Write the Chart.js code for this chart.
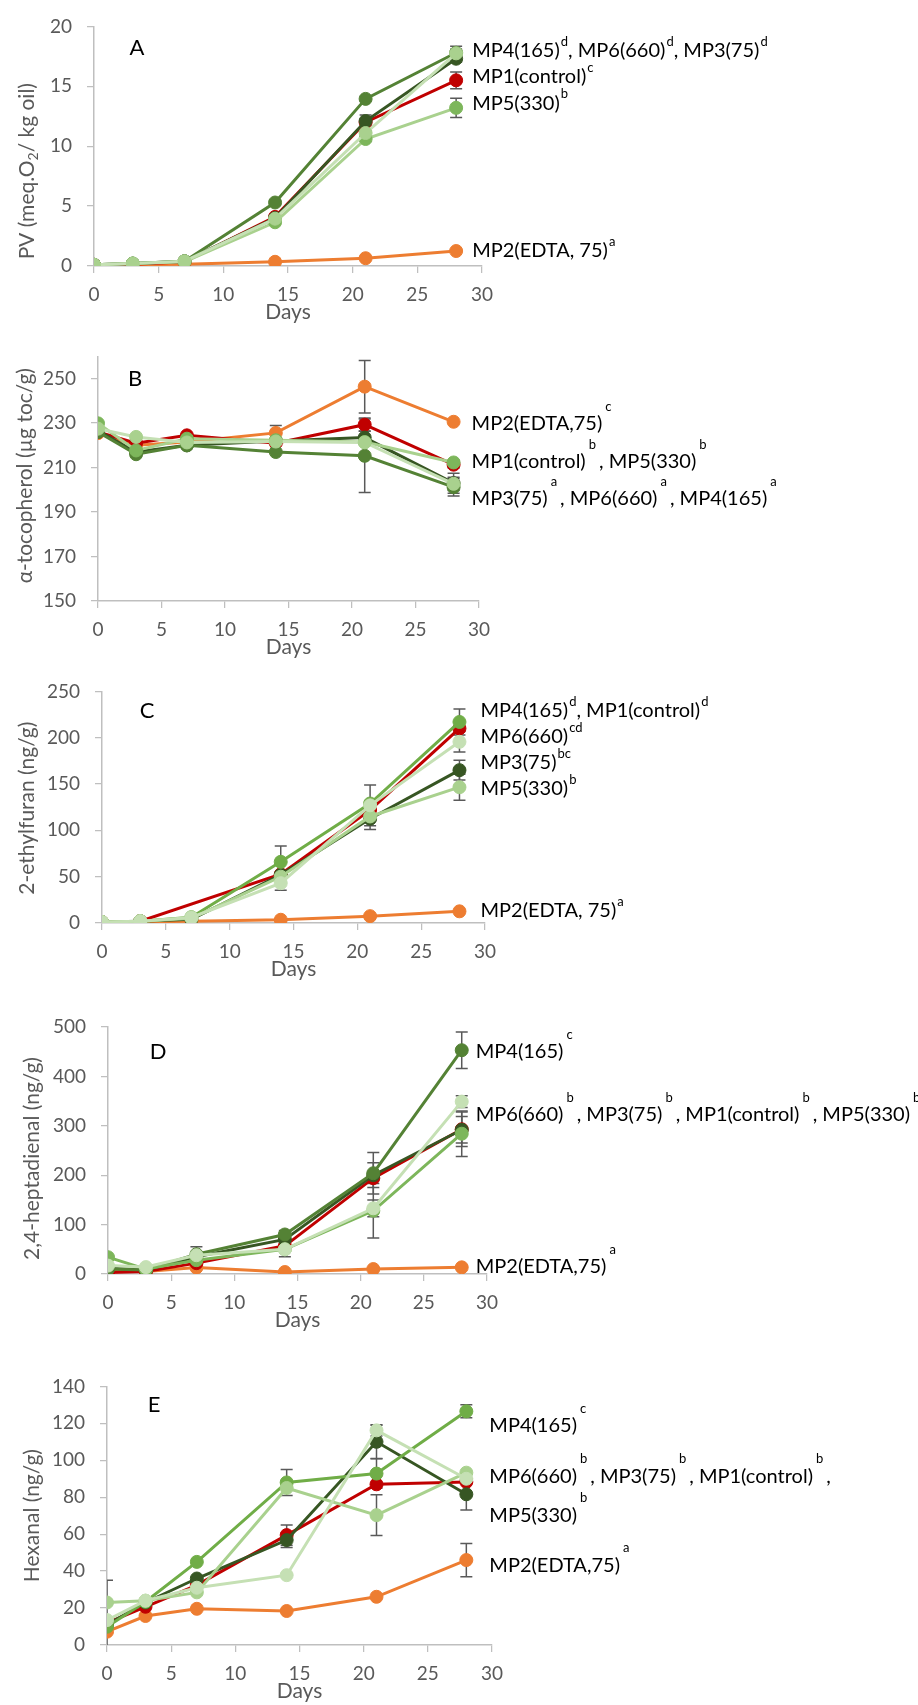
<!DOCTYPE html>
<html>
<head>
<meta charset="utf-8">
<title>Oxidation markers during storage</title>
<script src="https://cdn.jsdelivr.net/npm/chart.js@4.4.1/dist/chart.umd.min.js"></script>
<style>
  body { margin: 0; background: #fff; }
  #page { position: relative; width: 918px; height: 1705px; }
  #page canvas { position: absolute; left: 0; }
</style>
</head>
<body>
<div id="page">
  <canvas id="chart-a" width="918" height="326" style="top:0px"></canvas>
  <canvas id="chart-b" width="918" height="331" style="top:330px"></canvas>
  <canvas id="chart-c" width="918" height="318" style="top:665px"></canvas>
  <canvas id="chart-d" width="918" height="334" style="top:1000px"></canvas>
  <canvas id="chart-e" width="918" height="345" style="top:1360px"></canvas>
</div>
<script>
// Sampling days (x axis)
const days = [0, 3, 7, 14, 21, 28];
// Series, in drawing order (first one ends up on top)
const seriesNames = ['MP6(660)', 'MP5(330)', 'MP4(165)', 'MP3(75)', 'MP1(control)', 'MP2(EDTA,75)'];

// A - peroxide value
const pvMP1 = [0.1, 0.15, 0.35, 4.1, 12.0, 15.5];
const pvMP2 = [0.05, 0.1, 0.15, 0.35, 0.65, 1.25];
const pvMP3 = [0.1, 0.2, 0.4, 4.0, 12.1, 17.3];
const pvMP4 = [0.1, 0.2, 0.4, 5.3, 13.95, 17.8];
const pvMP5 = [0.1, 0.2, 0.35, 3.65, 10.6, 13.2];
const pvMP6 = [0.1, 0.2, 0.4, 3.95, 11.1, 17.75];
const pvErrMP1 = [0, 0, 0, 0, 0.3, 0.7];
const pvErrMP2 = [0, 0, 0, 0, 0, 0];
const pvErrMP3 = [0, 0, 0, 0, 0.5, 0.3];
const pvErrMP4 = [0, 0, 0, 0.2, 0.2, 0.3];
const pvErrMP5 = [0, 0, 0, 0, 0.2, 0.8];
const pvErrMP6 = [0, 0, 0, 0, 0.2, 0.6];

// B - alpha-tocopherol (axis runs to 260, labelled every 20 from 150)
const tocTicks = [150, 170, 190, 210, 230, 250];
const tocMP1 = [226, 221, 224.5, 221, 229.3, 211.3];
const tocMP2 = [225.5, 220, 221.5, 225.6, 246.4, 230.6];
const tocMP3 = [226.5, 217, 220, 222, 223.5, 203];
const tocMP4 = [226, 216, 220, 217, 215.3, 201.2];
const tocMP5 = [229.9, 217.7, 223, 222.3, 221.5, 212.3];
const tocMP6 = [227.5, 223.8, 221.3, 221.7, 221.3, 202.7];
const tocErrMP1 = [0, 0, 0, 0, 3, 1.5];
const tocErrMP2 = [0, 0, 0, 3.3, 11.8, 0];
const tocErrMP3 = [0, 0, 0, 0, 3, 4.5];
const tocErrMP4 = [0, 0, 0, 0, 16.5, 4];
const tocErrMP5 = [0, 0, 0, 0, 0, 1];
const tocErrMP6 = [0, 0, 0, 0, 0, 3];

// C - 2-ethylfuran
const efMP1 = [1, 2, null, 52.6, 122, 210];
const efMP2 = [0, 1, 2, 3.5, 7.4, 12.6];
const efMP3 = [1, 2, 4, 52, 112.5, 165];
const efMP4 = [1, 2, 6.3, 66, 129, 217];
const efMP5 = [1, 2, 5, 50, 115, 146.6];
const efMP6 = [1, 2, 6, 43, 127, 195.6];
const efErrMP1 = [0, 0, 0, 0, 0, 0];
const efErrMP2 = [0, 0, 0, 0, 0, 0];
const efErrMP3 = [0, 0, 0, 0, 11.5, 10.6];
const efErrMP4 = [0, 0, 0, 17, 0, 14];
const efErrMP5 = [0, 0, 0, 0, 0, 14];
const efErrMP6 = [0, 0, 0, 7.6, 22, 11];

// D - 2,4-heptadienal
const hdMP1 = [3, 5, 22, 57, 194, 293];
const hdMP2 = [5, 5, 13, 4, 10, 13.5];
const hdMP3 = [12, 8, 35, 70, 200, 292];
const hdMP4 = [10, 8, 40, 80, 204, 453];
const hdMP5 = [34, 10, 28, 50, 128, 284];
const hdMP6 = [17, 14, 38, 50, 133, 349];
const hdErrMP1 = [0, 0, 0, 0, 0, 35];
const hdErrMP2 = [0, 0, 0, 0, 0, 0];
const hdErrMP3 = [0, 0, 0, 0, 25, 27];
const hdErrMP4 = [0, 0, 15, 8, 42, 37];
const hdErrMP5 = [0, 0, 0, 0, 55, 46];
const hdErrMP6 = [0, 0, 0, 15, 17, 12];

// E - hexanal
const hexMP1 = [12, 20.7, 32.4, 59.5, 87, 88.3];
const hexMP2 = [7.2, 15.7, 19.6, 18.4, 26.1, 46];
const hexMP3 = [11, 23, 36, 56.8, 110, 81.6];
const hexMP4 = [9.9, 23.4, 45, 88, 92.8, 126.5];
const hexMP5 = [23, 24, 28.5, 85, 70.3, 93.3];
const hexMP6 = [13.5, 24, 31, 37.8, 116.2, 90];
const hexErrMP1 = [0, 0, 0, 5.5, 0, 0];
const hexErrMP2 = [0, 0, 0, 0, 0, 9];
const hexErrMP3 = [24, 0, 0, 4, 9, 8.5];
const hexErrMP4 = [0, 0, 0, 7, 8, 3.5];
const hexErrMP5 = [0, 0, 0, 0, 11, 0];
const hexErrMP6 = [0, 0, 0, 0, 3, 0];

// colours (Excel greens)
const RED = '#C00000', ORANGE = '#ED7D31';
const G_DARK = '#375623', G_MID = '#548235', G = '#70AD47', G_MARK = '#7DB65B', G_LIGHT = '#A9D18E', G_PALE = '#C5E0B4';

const FONT = 'Lato, "Open Sans", sans-serif';
const GREY = '#595959';

const panels = [
  {
    id: 'chart-a', letter: 'A',
    y: { min: 0, max: 20, step: 5 },
    values: [pvMP6, pvMP5, pvMP4, pvMP3, pvMP1, pvMP2],
    errors: [pvErrMP6, pvErrMP5, pvErrMP4, pvErrMP3, pvErrMP1, pvErrMP2],
    lines:   [G_PALE, G_LIGHT, G_MID, G_DARK, RED, ORANGE],
    markers: [G_LIGHT, G_MARK, G_MID, G_DARK, RED, ORANGE],
    yTitle: [['PV (meq.O', ''], ['2', 'sub'], ['/ kg oil)', '']],
    supDetached: false,
    labels: [
      { at: 18.0, parts: [['MP4(165)', 'd'], [', MP6(660)', 'd'], [', MP3(75)', 'd']] },
      { at: 15.8, parts: [['MP1(control)', 'c']] },
      { at: 13.6, parts: [['MP5(330)', 'b']] },
      { at: 1.25, parts: [['MP2(EDTA, 75)', 'a']] }
    ],
    layout: { left: 94, top: 21, right: 482, titleX: 27, titleShift: 25, letterDx: 43, letterDy: 22, labelGap: 16 }
  },
  {
    id: 'chart-b', letter: 'B',
    y: { min: 150, max: 260, ticks: tocTicks },
    values: [tocMP6, tocMP5, tocMP4, tocMP3, tocMP1, tocMP2],
    errors: [tocErrMP6, tocErrMP5, tocErrMP4, tocErrMP3, tocErrMP1, tocErrMP2],
    lines:   [G_PALE, G_LIGHT, G_MID, G_DARK, RED, ORANGE],
    markers: [G_LIGHT, G_MARK, G_MID, G_DARK, RED, ORANGE],
    yTitle: [['α-tocopherol (µg toc/g)', '']],
    supDetached: true,
    labels: [
      { at: 229.9, parts: [['MP2(EDTA,75)', 'c']] },
      { at: 212.7, parts: [['MP1(control)', 'b'], [', MP5(330)', 'b']] },
      { at: 195.9, parts: [['MP3(75)', 'a'], [', MP6(660)', 'a'], [', MP4(165)', 'a']] }
    ],
    layout: { left: 98, top: 15, right: 479, titleX: 25, titleShift: -3, letterDx: 37, letterDy: 23, labelGap: 18 }
  },
  {
    id: 'chart-c', letter: 'C',
    y: { min: 0, max: 250, step: 50 },
    values: [efMP6, efMP5, efMP4, efMP3, efMP1, efMP2],
    errors: [efErrMP6, efErrMP5, efErrMP4, efErrMP3, efErrMP1, efErrMP2],
    lines:   [G_PALE, G_LIGHT, G, G_DARK, RED, ORANGE],
    markers: [G_PALE, G_LIGHT, G, G_DARK, RED, ORANGE],
    yTitle: [['2-ethylfuran (ng/g)', '']],
    supDetached: false,
    labels: [
      { at: 229, parts: [['MP4(165)', 'd'], [', MP1(control)', 'd']] },
      { at: 200.8, parts: [['MP6(660)', 'cd']] },
      { at: 172.9, parts: [['MP3(75)', 'bc']] },
      { at: 144.8, parts: [['MP5(330)', 'b']] },
      { at: 13.4, parts: [['MP2(EDTA, 75)', 'a']] }
    ],
    layout: { left: 102, top: 20, right: 485, titleX: 27, titleShift: 1, letterDx: 45, letterDy: 20, labelGap: 21 }
  },
  {
    id: 'chart-d', letter: 'D',
    y: { min: 0, max: 500, step: 100 },
    values: [hdMP6, hdMP5, hdMP4, hdMP3, hdMP1, hdMP2],
    errors: [hdErrMP6, hdErrMP5, hdErrMP4, hdErrMP3, hdErrMP1, hdErrMP2],
    lines:   [G_PALE, G_MARK, G_MID, G_DARK, RED, ORANGE],
    markers: [G_PALE, G_MARK, G_MID, G_DARK, RED, ORANGE],
    yTitle: [['2,4-heptadienal (ng/g)', '']],
    supDetached: true,
    labels: [
      { at: 450.6, parts: [['MP4(165)', 'c']] },
      { at: 322, parts: [['MP6(660)', 'b'], [', MP3(75)', 'b'], [', MP1(control)', 'b'], [', MP5(330)', 'b']] },
      { at: 15, parts: [['MP2(EDTA,75)', 'a']] }
    ],
    layout: { left: 108, top: 27, right: 487, titleX: 32, titleShift: 8, letterDx: 50, letterDy: 25, labelGap: 14 }
  },
  {
    id: 'chart-e', letter: 'E',
    y: { min: 0, max: 140, step: 20 },
    values: [hexMP6, hexMP5, hexMP4, hexMP3, hexMP1, hexMP2],
    errors: [hexErrMP6, hexErrMP5, hexErrMP4, hexErrMP3, hexErrMP1, hexErrMP2],
    lines:   [G_PALE, G_LIGHT, G, G_DARK, RED, ORANGE],
    markers: [G_PALE, G_LIGHT, G, G_DARK, RED, ORANGE],
    yTitle: [['Hexanal (ng/g)', '']],
    supDetached: true,
    labels: [
      { at: 118.9, parts: [['MP4(165)', 'c']] },
      { at: 91.4, parts: [['MP6(660)', 'b'], [', MP3(75)', 'b'], [', MP1(control)', 'b'], [',', '']] },
      { at: 70.3, parts: [['MP5(330)', 'b']] },
      { at: 43.2, parts: [['MP2(EDTA,75)', 'a']] }
    ],
    layout: { left: 107, top: 26, right: 492, titleX: 32, titleShift: 0, letterDx: 47, letterDy: 19, labelGap: 23 }
  }
];

// text with superscripts, drawn left to right from x
function drawRich(ctx, x, y, parts, detached) {
  let cx = x;
  ctx.textAlign = 'left';
  ctx.textBaseline = 'middle';
  ctx.fillStyle = '#000';
  parts.forEach(([text, sup]) => {
    ctx.font = '20px ' + FONT;
    ctx.fillText(text, cx, y);
    cx += ctx.measureText(text).width;
    if (sup) {
      ctx.font = '13px ' + FONT;
      cx += detached ? 3 : 1;
      ctx.fillText(sup, cx, y + (detached ? -17 : -9));
      cx += ctx.measureText(sup).width + (detached ? 3 : 0);
    }
  });
}

function makeDecor(panel) {
  return {
    id: 'panelDecor',
    beforeDatasetsDraw(chart) {
      const ctx = chart.ctx, xs = chart.scales.x, ys = chart.scales.y, area = chart.chartArea;
      ctx.save();
      ctx.beginPath();
      ctx.rect(area.left, area.top - 2, area.right - area.left, area.bottom - area.top + 2);
      ctx.clip();
      ctx.strokeStyle = GREY;
      ctx.lineWidth = 1.5;
      panel.errors.forEach((errs, i) => {
        errs.forEach((e, j) => {
          const v = panel.values[i][j];
          if (!e || v == null) return;
          const px = xs.getPixelForValue(days[j]);
          const t = ys.getPixelForValue(v + e), b = ys.getPixelForValue(v - e);
          ctx.beginPath();
          ctx.moveTo(px, t); ctx.lineTo(px, b);
          ctx.moveTo(px - 6, t); ctx.lineTo(px + 6, t);
          ctx.moveTo(px - 6, b); ctx.lineTo(px + 6, b);
          ctx.stroke();
        });
      });
      ctx.restore();
    },
    afterDraw(chart) {
      const ctx = chart.ctx, xs = chart.scales.x, ys = chart.scales.y, area = chart.chartArea;
      const lay = panel.layout;
      ctx.save();
      // panel letter
      ctx.font = '22px ' + FONT;
      ctx.fillStyle = '#000';
      ctx.textAlign = 'center';
      ctx.textBaseline = 'middle';
      ctx.fillText(panel.letter, area.left + lay.letterDx, area.top + lay.letterDy);

      // rotated y title
      const cy = (area.top + area.bottom) / 2 + lay.titleShift;
      ctx.translate(lay.titleX, cy);
      ctx.rotate(-Math.PI / 2);
      let w = 0;
      panel.yTitle.forEach(([t, s]) => {
        ctx.font = (s === 'sub' ? '14px ' : '21px ') + FONT;
        w += ctx.measureText(t).width;
      });
      let tx = -w / 2;
      ctx.fillStyle = GREY;
      ctx.textAlign = 'left';
      panel.yTitle.forEach(([t, s]) => {
        ctx.font = (s === 'sub' ? '14px ' : '21px ') + FONT;
        ctx.fillText(t, tx, s === 'sub' ? 6 : 0);
        tx += ctx.measureText(t).width;
      });
      ctx.restore();

      // end-of-line labels
      ctx.save();
      const x0 = xs.getPixelForValue(28) + lay.labelGap;
      panel.labels.forEach(l => drawRich(ctx, x0, ys.getPixelForValue(l.at), l.parts, panel.supDetached));
      ctx.restore();
    }
  };
}

function buildChart(panel) {
  const canvas = document.getElementById(panel.id);
  const lay = panel.layout;
  const datasets = seriesNames.map((name, i) => ({
    label: name,
    data: panel.values[i],
    borderColor: panel.lines[i],
    backgroundColor: panel.markers[i],
    pointBackgroundColor: panel.markers[i],
    pointBorderColor: panel.markers[i],
    pointBorderWidth: 1,
    pointRadius: 6.5,
    borderWidth: 3,
    tension: 0,
    spanGaps: true
  }));
  const axisGrid = { display: true, drawOnChartArea: false, drawTicks: true, tickLength: 7, color: '#BFBFBF', lineWidth: 1.25 };
  const axisBorder = { display: true, color: '#BFBFBF', width: 1.5 };
  return new Chart(canvas, {
    type: 'line',
    data: { labels: days, datasets },
    options: {
      responsive: false,
      animation: false,
      devicePixelRatio: 1,
      layout: { padding: { left: 0, top: lay.top, right: 918 - lay.right, bottom: 0 } },
      plugins: { legend: { display: false }, tooltip: { enabled: false } },
      scales: {
        x: {
          type: 'linear', min: 0, max: 30,
          ticks: { stepSize: 5, color: GREY, font: { size: 19, family: FONT }, padding: 10, maxRotation: 0 },
          grid: axisGrid, border: axisBorder,
          title: { display: true, text: 'Days', color: GREY, font: { size: 21, family: FONT }, padding: { top: 0, bottom: 1 } },
          afterFit(scale) { scale.height = 60; }
        },
        y: {
          type: 'linear', min: panel.y.min, max: panel.y.max,
          ticks: { stepSize: panel.y.step, color: GREY, font: { size: 19, family: FONT }, padding: 15 },
          grid: axisGrid, border: axisBorder,
          afterBuildTicks(scale) {
            if (panel.y.ticks) {
              scale.ticks = panel.y.ticks.map(v => ({ value: v }));
            }
          },
          afterFit(scale) { scale.width = lay.left; }
        }
      }
    },
    plugins: [makeDecor(panel)]
  });
}

panels.forEach(buildChart);
</script>
</body>
</html>
